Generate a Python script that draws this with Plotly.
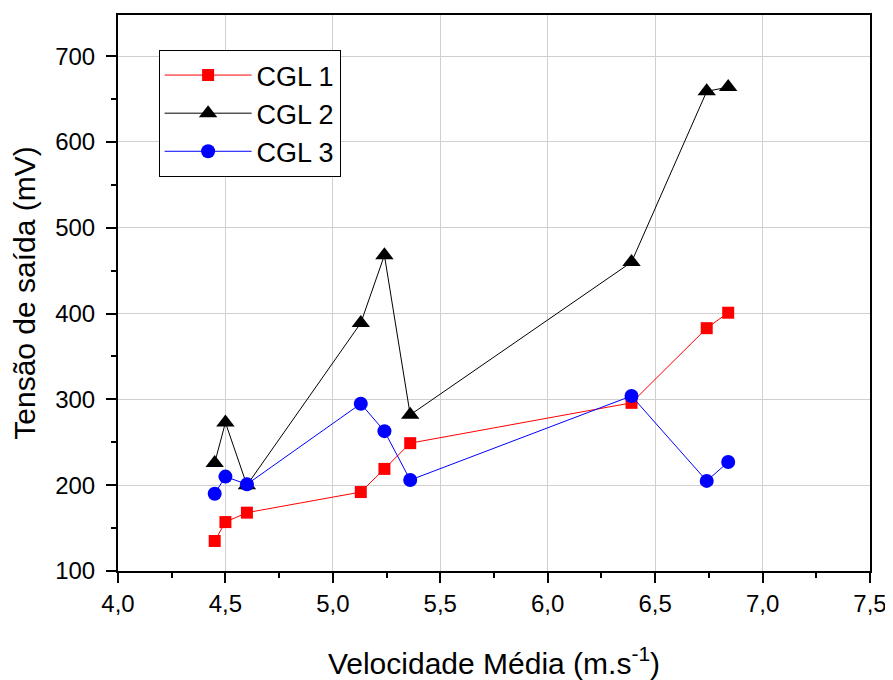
import plotly.graph_objects as go

velocidade = [4.45, 4.50, 4.60, 5.13, 5.24, 5.36, 6.39, 6.74, 6.84]
cgl1 = [135, 157, 168, 192, 219, 249, 296, 383, 401]
cgl2 = [226, 273, 200, 389, 468, 282, 460, 659, 664]
cgl3 = [190, 210, 201, 295, 263, 206, 304, 205, 227]

x_tick_vals = [4.0, 4.5, 5.0, 5.5, 6.0, 6.5, 7.0, 7.5]
x_tick_text = ["4,0", "4,5", "5,0", "5,5", "6,0", "6,5", "7,0", "7,5"]
y_tick_vals = [100, 200, 300, 400, 500, 600, 700]
y_tick_text = ["100", "200", "300", "400", "500", "600", "700"]

FONT = "Arial, Liberation Sans, sans-serif"

fig = go.Figure()
fig.add_trace(go.Scatter(x=velocidade, y=cgl1, name="CGL 1", mode="lines+markers",
                         line=dict(color="#ff0000", width=1),
                         marker=dict(symbol="square", size=12, color="#ff0000")))
fig.add_trace(go.Scatter(x=velocidade, y=cgl2, name="CGL 2", mode="lines+markers",
                         line=dict(color="#000000", width=1),
                         marker=dict(symbol="triangle-up", size=16, color="#000000")))
fig.add_trace(go.Scatter(x=velocidade, y=cgl3, name="CGL 3", mode="lines+markers",
                         line=dict(color="#0000ff", width=1),
                         marker=dict(symbol="circle", size=14, color="#0000ff")))

axis_common = dict(
    showline=True, linecolor="black", linewidth=2, mirror=True,
    showgrid=True, gridcolor="#d0d0d0", gridwidth=1.2,
    ticks="outside", ticklen=10, tickwidth=2, tickcolor="black",
    tickfont=dict(family=FONT, size=24, color="black"),
    zeroline=False,
)

# the page body adds an 8 px margin, so the figure is 8 px smaller and shifted
fig.update_layout(
    width=885, height=672,
    margin=dict(l=110, r=23, t=7, b=109),
    paper_bgcolor="white", plot_bgcolor="white",
    font=dict(family=FONT, color="black"),
    showlegend=True,
    legend=dict(x=0.054, y=0.937, xanchor="left", yanchor="top",
                bgcolor="white", bordercolor="black", borderwidth=1,
                font=dict(family=FONT, size=27, color="black"),
                itemwidth=87, tracegroupgap=0),
    xaxis=dict(range=[4.0, 7.5], tickvals=x_tick_vals, ticktext=x_tick_text,
               minor=dict(ticks="outside", ticklen=5, tickwidth=2, tickcolor="black",
                          dtick=0.25, tick0=4.0, showgrid=False),
               title=dict(text="Velocidade Média (m.s<sup>-1</sup>)",
                          font=dict(family=FONT, size=30, color="black"), standoff=44),
               automargin=False, **axis_common),
    yaxis=dict(range=[100, 748], tickvals=y_tick_vals, ticktext=y_tick_text,
               ticklabelstandoff=6,
               minor=dict(ticks="outside", ticklen=5, tickwidth=2, tickcolor="black",
                          dtick=50, tick0=100, showgrid=False),
               title=dict(text="Tensão de saída (mV)",
                          font=dict(family=FONT, size=30, color="black"), standoff=11),
               automargin=False, **axis_common),
)

fig.write_html("out.html")
